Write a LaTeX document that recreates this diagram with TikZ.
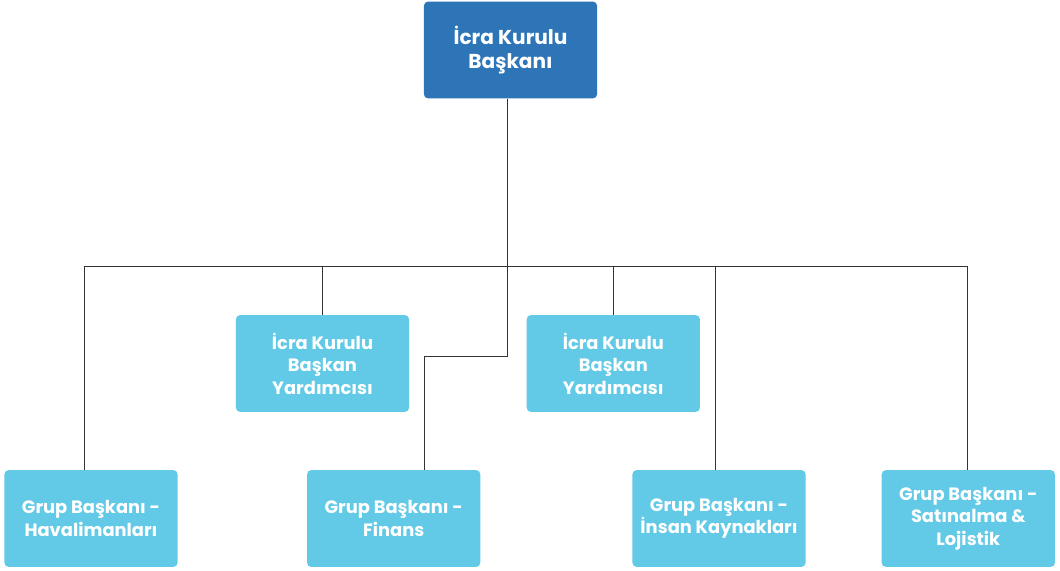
\documentclass[tikz,border=0pt]{standalone}
\usepackage{fontspec}
\setmainfont{Poppins}
\usepackage{xcolor}
\usepackage{tikz}
\usetikzlibrary{positioning}
\usetikzlibrary{calc}
\definecolor{baskanblue}{HTML}{2E75B8}
\definecolor{grupblue}{HTML}{62CAE6}
\definecolor{linegray}{HTML}{333333}
\tikzset{
  kutu/.style={rectangle, rounded corners=3pt, minimum width=4.33cm, minimum height=2.42cm,
    text=white, align=center, font=\fontsize{12.7}{16}\selectfont\bfseries, inner sep=2pt},
  baskan/.style={kutu, fill=baskanblue, font=\fontsize{14.3}{17}\selectfont\bfseries},
  grup/.style={kutu, fill=grupblue},
  hat/.style={draw=linegray, line width=0.7pt}
}

\begin{document}
\begin{tikzpicture}[x=0.025cm, y=-0.025cm]
  \useasboundingbox (0,0) rectangle (1060,571);
  \node[baskan] (ceo) at (510.5,50) {İcra Kurulu\\Başkanı};
  \node[grup] (yrd1) at (322.5,363.5) {İcra Kurulu\\Başkan\\Yardımcısı};
  \node[grup] (yrd2) at (613.3,363.5) {İcra Kurulu\\Başkan\\Yardımcısı};
  \node[grup] (havalimani) at (91,518.5) {Grup Başkanı -\\Havalimanları};
  \node[grup] (finans) at (393.7,518.5) {Grup Başkanı -\\Finans};
  \node[grup] (insan) at (719,518.5) {Grup Başkanı -\\İnsan Kaynakları};
  \node[grup] (satinalma) at (968.3,518.5) {Grup Başkanı -\\Satınalma \&\\Lojistik};
  \coordinate (busL) at (84,266.7);
  \coordinate (busR) at (967.7,266.7);
  \coordinate (ortaD) at (507.5,356.7);
  \coordinate (finansD) at (424,356.7);
  \draw[hat] (busL) -- (busR);
  \draw[hat] (ceo.south -| ortaD) -- (ortaD) -- (finansD) -- (finansD |- finans.north);
  \draw[hat] (busL) -- (busL |- havalimani.north);
  \draw[hat] (yrd1.north) -- (yrd1.north |- busL);
  \draw[hat] (yrd2.north) -- (yrd2.north |- busL);
  \draw[hat] (715.7,266.7) -- (715.7,0 |- insan.north);
  \draw[hat] (busR) -- (busR |- satinalma.north);
\end{tikzpicture}
\end{document}
